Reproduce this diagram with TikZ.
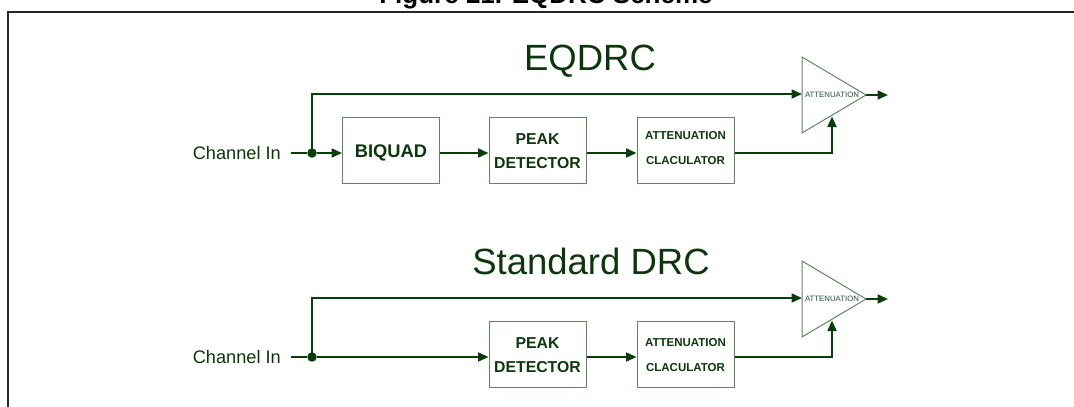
\documentclass[tikz,border=0pt]{standalone}
\usepackage{fontspec}
\setmainfont{Liberation Sans}
\usetikzlibrary{arrows.meta,calc}
\definecolor{ln}{HTML}{0B3D0B}
\definecolor{bx}{HTML}{5F865F}
\definecolor{tx}{HTML}{0C370C}
\definecolor{tri}{HTML}{224F3E}
\begin{document}
\begin{tikzpicture}[x=1pt,y=-1pt,
  wire/.style={draw=ln,line width=2pt},
  arr/.style={wire,-{Triangle[length=10.5pt,width=9pt]}},
  blk/.style={draw=bx,line width=1pt,minimum width=97pt,minimum height=66pt,inner sep=0pt},
  blktxt/.style={text=tx,inner sep=0pt,align=center,font=\bfseries\fontsize{15.8}{24}\selectfont},
  smalltxt/.style={blktxt,font=\bfseries\fontsize{11.5}{25}\selectfont},
  lbl/.style={text=tx,font=\fontsize{18.2}{20}\selectfont,inner sep=0pt},
  big/.style={text=tx,font=\fontsize{36.5}{40}\selectfont,inner sep=0pt},
  trilbl/.style={text=tri,font=\fontsize{7.8}{8}\selectfont,inner sep=0pt},
  ampl/.style={draw=bx,line width=1pt,fill=white},
  dot/.style={circle,fill=ln,inner sep=0pt,minimum size=9.5pt}]
\useasboundingbox (0,0) rectangle (1074,407);
\clip (0,0) rectangle (1074,407);
% frame and cut figure caption
\draw[line width=2pt,color=black!85] (8,420) -- (8,12) -- (1090,12);
\node[anchor=base,font=\bfseries\fontsize{26}{28}\selectfont,inner sep=0pt] (cap) at (546,3.3) {Figure 21. EQDRC Scheme};

% ===== EQDRC =====
\node[big,anchor=base] (t1) at (590,70.5) {EQDRC};
\node[lbl,anchor=east] (in1) at (281,153) {Channel In};
\coordinate (s1) at (291,153);
\node[dot] (j1) at (312,153) {};
\node[blk] (bq) at (391,150) {};
\node[blktxt,font=\bfseries\fontsize{18.3}{20}\selectfont] (bqt) at (391,153) {BIQUAD};
\node[blk] (pd1) at (537.5,150) {};
\node[blktxt] (pd1t) at (537.5,151) {PEAK\\DETECTOR};
\node[blk] (ac1) at (685.5,150) {};
\node[smalltxt] (ac1t) at (685.5,148.5) {ATTENUATION\\CLACULATOR};
\draw[ampl] (802,57) coordinate (a1t) -- (866,95) coordinate (a1o) -- (802,133) coordinate (a1b) -- cycle;
\coordinate (a1i) at (802,94);
\coordinate (a1g) at (832,116.5);
\coordinate (o1) at (888,95);
\node[trilbl] (al1) at (832,94.5) {ATTENUATION};
\draw[wire] (s1) -- (j1);
\draw[arr] (j1) -- (j1 -| bq.west);
\draw[arr] (j1.center) |- (a1i);
\draw[arr] (bq.east |- j1) -- (pd1.west |- j1);
\draw[arr] (pd1.east |- j1) -- (ac1.west |- j1);
\draw[arr] (ac1.east |- j1) -| (a1g);
\draw[arr] (a1o) -- (o1);

% ===== Standard DRC =====
\node[big,anchor=base] (t2) at (591,274.5) {Standard DRC};
\node[lbl,anchor=east] (in2) at (281,357) {Channel In};
\coordinate (s2) at (291,357);
\node[dot] (j2) at (312,357) {};
\node[blk] (pd2) at (537.5,354.5) {};
\node[blktxt] (pd2t) at (537.5,355) {PEAK\\DETECTOR};
\node[blk] (ac2) at (685.5,354.5) {};
\node[smalltxt] (ac2t) at (685.5,355.5) {ATTENUATION\\CLACULATOR};
\draw[ampl] (802,261) coordinate (a2t) -- (866,299) coordinate (a2o) -- (802,337) coordinate (a2b) -- cycle;
\coordinate (a2i) at (802,298);
\coordinate (a2g) at (832,320.5);
\coordinate (o2) at (888,299);
\node[trilbl] (al2) at (832,298.5) {ATTENUATION};
\draw[wire] (s2) -- (j2);
\draw[arr] (j2) -- (j2 -| pd2.west);
\draw[arr] (j2.center) |- (a2i);
\draw[arr] (pd2.east |- j2) -- (ac2.west |- j2);
\draw[arr] (ac2.east |- j2) -| (a2g);
\draw[arr] (a2o) -- (o2);
\end{tikzpicture}
\end{document}
